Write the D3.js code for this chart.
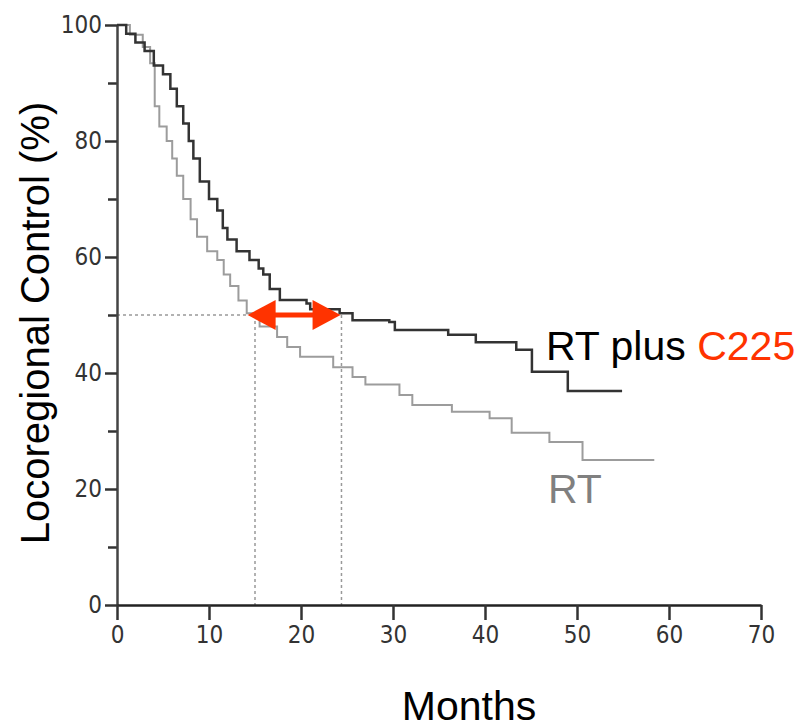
<!DOCTYPE html>
<html>
    <head>
        <meta charset="utf-8">
        <script src="https://d3js.org/d3.v7.min.js"></script>
        <style>
            body { margin: 0; background: #fff; }
            .tick text { font-family: "Liberation Sans Narrow", "DejaVu Sans Condensed", sans-serif; font-size: 24px; fill: #333; }
            .big { font-family: "Liberation Sans", Arial, sans-serif; font-size: 41px; }
        </style>
    </head>
    <body>
        <div id="chart"></div>
        <script>
            // Kaplan-Meier step points (month, % free of locoregional failure)
            var rtC225Months = [0, 1, 2, 3, 4, 5, 5.8, 6.5, 7.2, 7.8, 8.3, 9, 10, 10.9, 11.5, 12, 13, 14.4, 15.4, 15.9, 16.6, 17.7, 20.6, 21, 24.2, 25.6, 29.6, 30.2, 36, 39, 43.4, 45.1, 49, 54.9];
            var rtC225Values = [100, 98.5, 97, 95.5, 93, 91.5, 89, 86, 83, 80, 77, 73, 70, 68, 65, 63, 61, 59.5, 58, 57, 54.5, 52.6, 52, 51, 50.3, 49.1, 48.8, 47.4, 46.6, 45.3, 44, 40.2, 36.9, 36.9];

            var rtMonths = [0, 1.4, 2.8, 3.6, 4.1, 4.6, 5.4, 6, 6.5, 7.2, 8, 8.7, 9.8, 10.9, 11.6, 12.3, 13.2, 14.1, 15.5, 17.4, 18.5, 19.9, 23.5, 25.6, 27, 30.7, 32.1, 36.4, 40.5, 42.9, 47, 50.6, 58.4];
            var rtValues = [100, 98.3, 96.2, 93.4, 86, 82.5, 80, 77, 74, 70, 66.5, 63.5, 61, 59.5, 57, 55, 52.5, 50.3, 48, 46.2, 44.5, 42.8, 41, 39.3, 38, 36.2, 34.5, 33.3, 32.2, 29.7, 28.1, 25, 25];

            var xTicks = [0, 10, 20, 30, 40, 50, 60, 70];
            var yTicks = [0, 20, 40, 60, 80, 100];
            var yMinorTicks = [10, 30, 50, 70, 90];

            // median locoregional control times
            var medianRT = 15;
            var medianRTC225 = 24.4;

            var width = 810, height = 728;

            var svg = d3.select("#chart")
                .append("svg")
                    .attr("width", width)
                    .attr("height", height);

            var x = d3.scaleLinear().domain([0, 70]).range([117, 761]);
            var y = d3.scaleLinear().domain([0, 100]).range([605, 25]);

            // dotted median guides
            var guides = svg.append("g")
                .attr("stroke", "#999")
                .attr("stroke-width", 1.5)
                .attr("stroke-dasharray", "3,3");
            guides.append("line")
                .attr("x1", x(0)).attr("x2", x(medianRT))
                .attr("y1", y(50)).attr("y2", y(50));
            [medianRT, medianRTC225].forEach(function(m) {
                guides.append("line")
                    .attr("x1", x(m)).attr("x2", x(m))
                    .attr("y1", y(50)).attr("y2", y(0));
            });

            // y axis
            svg.append("g")
                .attr("transform", "translate(" + x(0) + ",0)")
                .call(d3.axisLeft(y).tickValues(yMinorTicks).tickSize(9).tickSizeOuter(0).tickFormat(""))
                .call(function(g) { g.select(".domain").remove(); })
                .selectAll("line").attr("stroke", "#333").attr("stroke-width", 2.5);

            var yAxis = svg.append("g")
                .attr("transform", "translate(" + x(0) + ",0)")
                .call(d3.axisLeft(y).tickValues(yTicks).tickSize(12).tickPadding(3).tickSizeOuter(0));
            yAxis.select(".domain").attr("stroke", "#444").attr("stroke-width", 2.5);
            yAxis.selectAll("line").attr("stroke", "#333").attr("stroke-width", 2.5);

            // x axis
            var xAxis = svg.append("g")
                .attr("transform", "translate(0," + y(0) + ")")
                .call(d3.axisBottom(x).tickValues(xTicks).tickSize(15).tickPadding(6).tickSizeOuter(0));
            xAxis.select(".domain").attr("stroke", "#222").attr("stroke-width", 2.5);
            xAxis.selectAll("line").attr("stroke", "#333").attr("stroke-width", 2.5);

            // survival curves
            var line = d3.line()
                .x(function(d) { return x(d[0]); })
                .y(function(d) { return y(d[1]); })
                .curve(d3.curveStepAfter);

            svg.append("path")
                .datum(d3.zip(rtMonths, rtValues))
                .attr("fill", "none")
                .attr("stroke", "#9c9c9c")
                .attr("stroke-width", 2)
                .attr("d", line);

            svg.append("path")
                .datum(d3.zip(rtC225Months, rtC225Values))
                .attr("fill", "none")
                .attr("stroke", "#333")
                .attr("stroke-width", 2.5)
                .attr("d", line);

            // red double arrow between medians
            var red = "#ff3300";
            var ax1 = x(14.2), ax2 = x(24.3), ay = y(50);
            svg.append("line")
                .attr("x1", ax1 + 20).attr("x2", ax2 - 20)
                .attr("y1", ay).attr("y2", ay)
                .attr("stroke", red).attr("stroke-width", 5);
            svg.append("path")
                .attr("fill", red)
                .attr("d", "M" + ax1 + "," + ay + "L" + (ax1 + 28) + "," + (ay - 15) + "L" + (ax1 + 28) + "," + (ay + 15) + "Z");
            svg.append("path")
                .attr("fill", red)
                .attr("d", "M" + ax2 + "," + ay + "L" + (ax2 - 28) + "," + (ay - 15) + "L" + (ax2 - 28) + "," + (ay + 15) + "Z");

            // curve labels
            var lab = svg.append("text")
                .attr("class", "big")
                .attr("x", 546).attr("y", 360);
            lab.append("tspan").attr("fill", "#000").text("RT plus ");
            lab.append("tspan").attr("fill", red).text("C225");

            svg.append("text")
                .attr("class", "big")
                .attr("x", 548).attr("y", 503)
                .attr("fill", "#808080")
                .text("RT");

            // axis titles
            svg.append("text")
                .attr("class", "big")
                .attr("text-anchor", "middle")
                .attr("transform", "translate(49,323) rotate(-90)")
                .style("font-size", "40px")
                .text("Locoregional Control (%)");

            svg.append("text")
                .attr("class", "big")
                .attr("text-anchor", "middle")
                .attr("x", 469).attr("y", 720)
                .text("Months");
        </script>
    </body>
</html>
